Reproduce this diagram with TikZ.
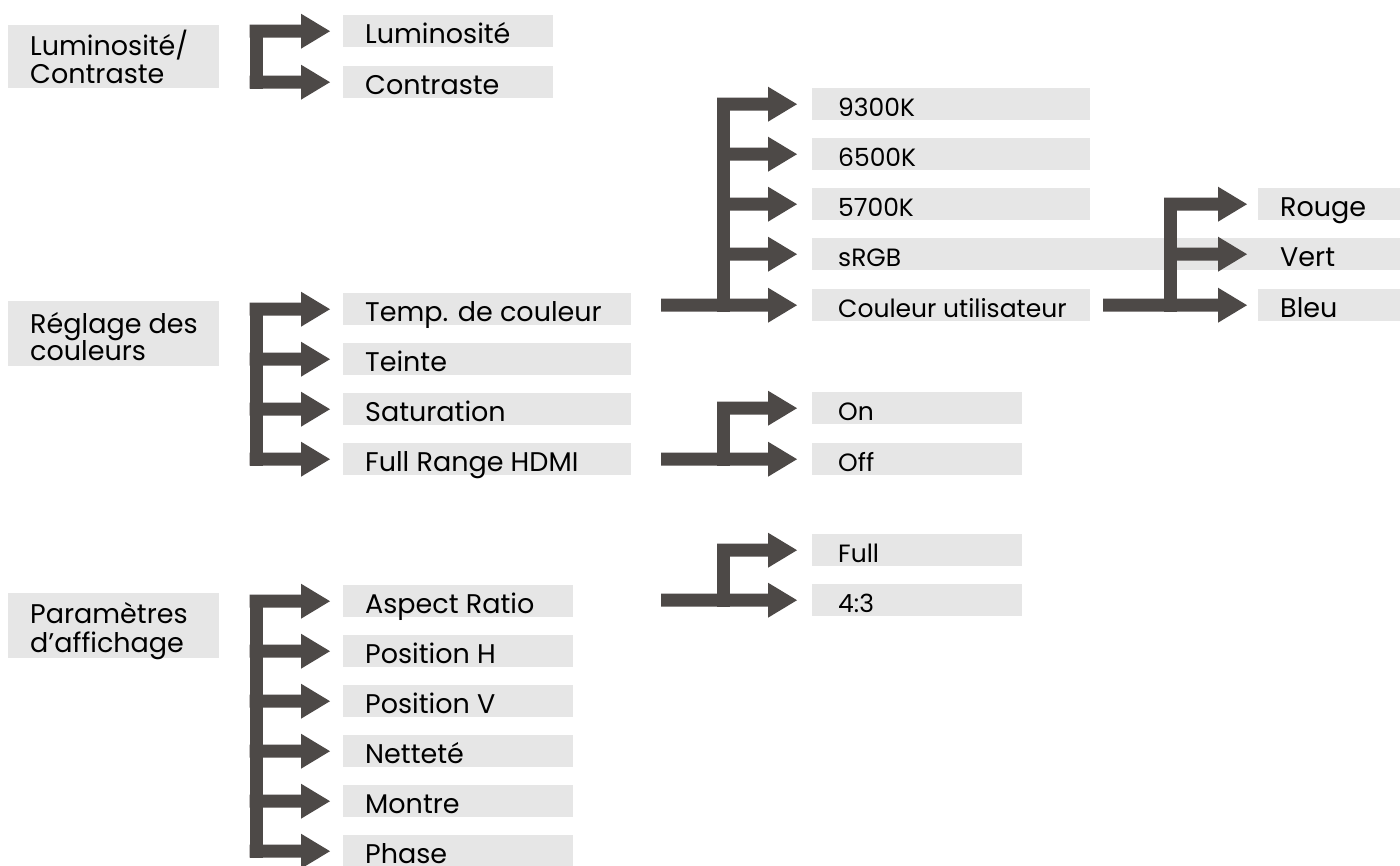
\documentclass[tikz,border=0pt]{standalone}
\usepackage{fontspec}
\setmainfont{Poppins}
\usetikzlibrary{calc}
\definecolor{arrgray}{HTML}{4D4947}
\definecolor{boxgray}{HTML}{E6E6E6}
\tikzset{
  gbox/.style={fill=boxgray, inner sep=0pt, minimum height=32pt, anchor=north west},
  pbox/.style={fill=boxgray, inner sep=0pt, anchor=north west},
  bigt/.style={font=\fontsize{27}{30}\selectfont, inner sep=0pt, anchor=base west},
  smt/.style={font=\fontsize{25}{28}\selectfont, inner sep=0pt, anchor=base west},
  arrowfill/.style={fill=arrgray},
  barst/.style={draw=arrgray, line width=13pt, line cap=rect},
}
% name, x, y, width, text style, inset, text
\newcommand\mkbox[7]{%
  \node[gbox, minimum width=#4pt] (#1) at (#2,#3) {};
  \node[#5] (#1-t) at ($(#1.south west)+(#6,-4)$) {#7};}
% start x coordinate, target node, gap before target
\newcommand\arm[3]{%
  \path (#1 |- #2.west) coordinate (as) ($(#2.west)+(-#3,0)$) coordinate (ae);
  \fill[arrowfill] ($(as)+(0,-6.5)$) -- ($(ae)+(-29,-6.5)$) -- ($(ae)+(-29,-17.5)$) -- (ae)
    -- ($(ae)+(-29,17.5)$) -- ($(ae)+(-29,6.5)$) -- ($(as)+(0,6.5)$) -- cycle;}
% bar left coordinate, top node, bottom node
\newcommand\kbar[3]{%
  \path (#1 |- #2.west) coordinate (bt) (#1 |- #3.west) coordinate (bb);
  \draw[barst] ($(bt)+(6.5,0)$) -- ($(bb)+(6.5,0)$);}
\begin{document}
\begin{tikzpicture}[x=1pt,y=-1pt]
\useasboundingbox (0,0) rectangle (1400,865);
\fill[white] (0,0) rectangle (1400,865);

% ---------- parent boxes ----------
\node[pbox, minimum width=211pt, minimum height=63pt] (lc) at (8,25) {};
\node[bigt] (lc-t1) at ($(lc.south west)+(22,-33)$) {Luminosité/};
\node[bigt] (lc-t2) at ($(lc.south west)+(22,-5)$) {Contraste};

\node[pbox, minimum width=211pt, minimum height=65pt] (reg) at (8,301) {};
\node[bigt] (reg-t1) at ($(reg.south west)+(22,-33)$) {Réglage des};
\node[bigt] (reg-t2) at ($(reg.south west)+(22,-6)$) {couleurs};

\node[pbox, minimum width=211pt, minimum height=65pt] (par) at (8,593) {};
\node[bigt] (par-t1) at ($(par.south west)+(22,-35)$) {Paramètres};
\node[bigt] (par-t2) at ($(par.south west)+(22,-6)$) {d’affichage};

% ---------- first column ----------
\mkbox{lum}{343}{15}{210}{bigt}{22}{Luminosité}
\mkbox{con}{343}{66}{210}{bigt}{22}{Contraste}

\mkbox{temp}{343}{293}{288}{bigt}{22}{Temp. de couleur}
\mkbox{tei}{343}{343}{288}{bigt}{22}{Teinte}
\mkbox{sat}{343}{393}{288}{bigt}{22}{Saturation}
\mkbox{frh}{343}{443}{288}{bigt}{22}{Full Range HDMI}

\mkbox{asp}{343}{585}{230}{bigt}{22}{Aspect Ratio}
\mkbox{posh}{343}{635}{230}{bigt}{22}{Position H}
\mkbox{posv}{343}{685}{230}{bigt}{22}{Position V}
\mkbox{net}{343}{735}{230}{bigt}{22}{Netteté}
\mkbox{mon}{343}{785}{230}{bigt}{22}{Montre}
\mkbox{pha}{343}{835}{230}{bigt}{22}{Phase}

% ---------- second column ----------
\mkbox{c93}{812}{88}{278}{smt}{26}{9300K}
\mkbox{c65}{812}{138}{278}{smt}{26}{6500K}
\mkbox{c57}{812}{188}{278}{smt}{26}{5700K}
\mkbox{srgb}{812}{238}{456}{smt}{26}{sRGB}
\mkbox{cu}{812}{289}{278}{smt}{26}{Couleur utilisateur}

\mkbox{on}{812}{392}{210}{smt}{26}{On}
\mkbox{off}{812}{443}{210}{smt}{26}{Off}

\mkbox{full}{812}{534}{210}{smt}{26}{Full}
\mkbox{r43}{812}{584}{210}{smt}{26}{4:3}

% ---------- third column ----------
\mkbox{rou}{1258}{188}{142}{bigt}{22}{Rouge}
\mkbox{ver}{1258}{238}{142}{bigt}{22}{Vert}
\mkbox{ble}{1258}{289}{142}{bigt}{22}{Bleu}

% ---------- connectors ----------
\coordinate (k1) at (249.5,0);
\kbar{k1}{lum}{con}
\arm{k1}{lum}{13} \arm{k1}{con}{13}

\kbar{k1}{temp}{frh}
\arm{k1}{temp}{13} \arm{k1}{tei}{13} \arm{k1}{sat}{13} \arm{k1}{frh}{13}

\kbar{k1}{asp}{pha}
\arm{k1}{asp}{13} \arm{k1}{posh}{13} \arm{k1}{posv}{13}
\arm{k1}{net}{13} \arm{k1}{mon}{13} \arm{k1}{pha}{13}

\coordinate (s2) at (661,0);
\coordinate (k2) at (717,0);
\kbar{k2}{c93}{cu}
\arm{k2}{c93}{15} \arm{k2}{c65}{15} \arm{k2}{c57}{15} \arm{k2}{srgb}{15}
\arm{s2}{cu}{15}

\kbar{k2}{on}{off}
\arm{k2}{on}{15} \arm{s2}{off}{15}

\kbar{k2}{full}{r43}
\arm{k2}{full}{15} \arm{s2}{r43}{15}

\coordinate (s3) at (1103,0);
\coordinate (k3) at (1164,0);
\kbar{k3}{rou}{ble}
\arm{k3}{rou}{11} \arm{k3}{ver}{11} \arm{s3}{ble}{11}
\end{tikzpicture}
\end{document}
